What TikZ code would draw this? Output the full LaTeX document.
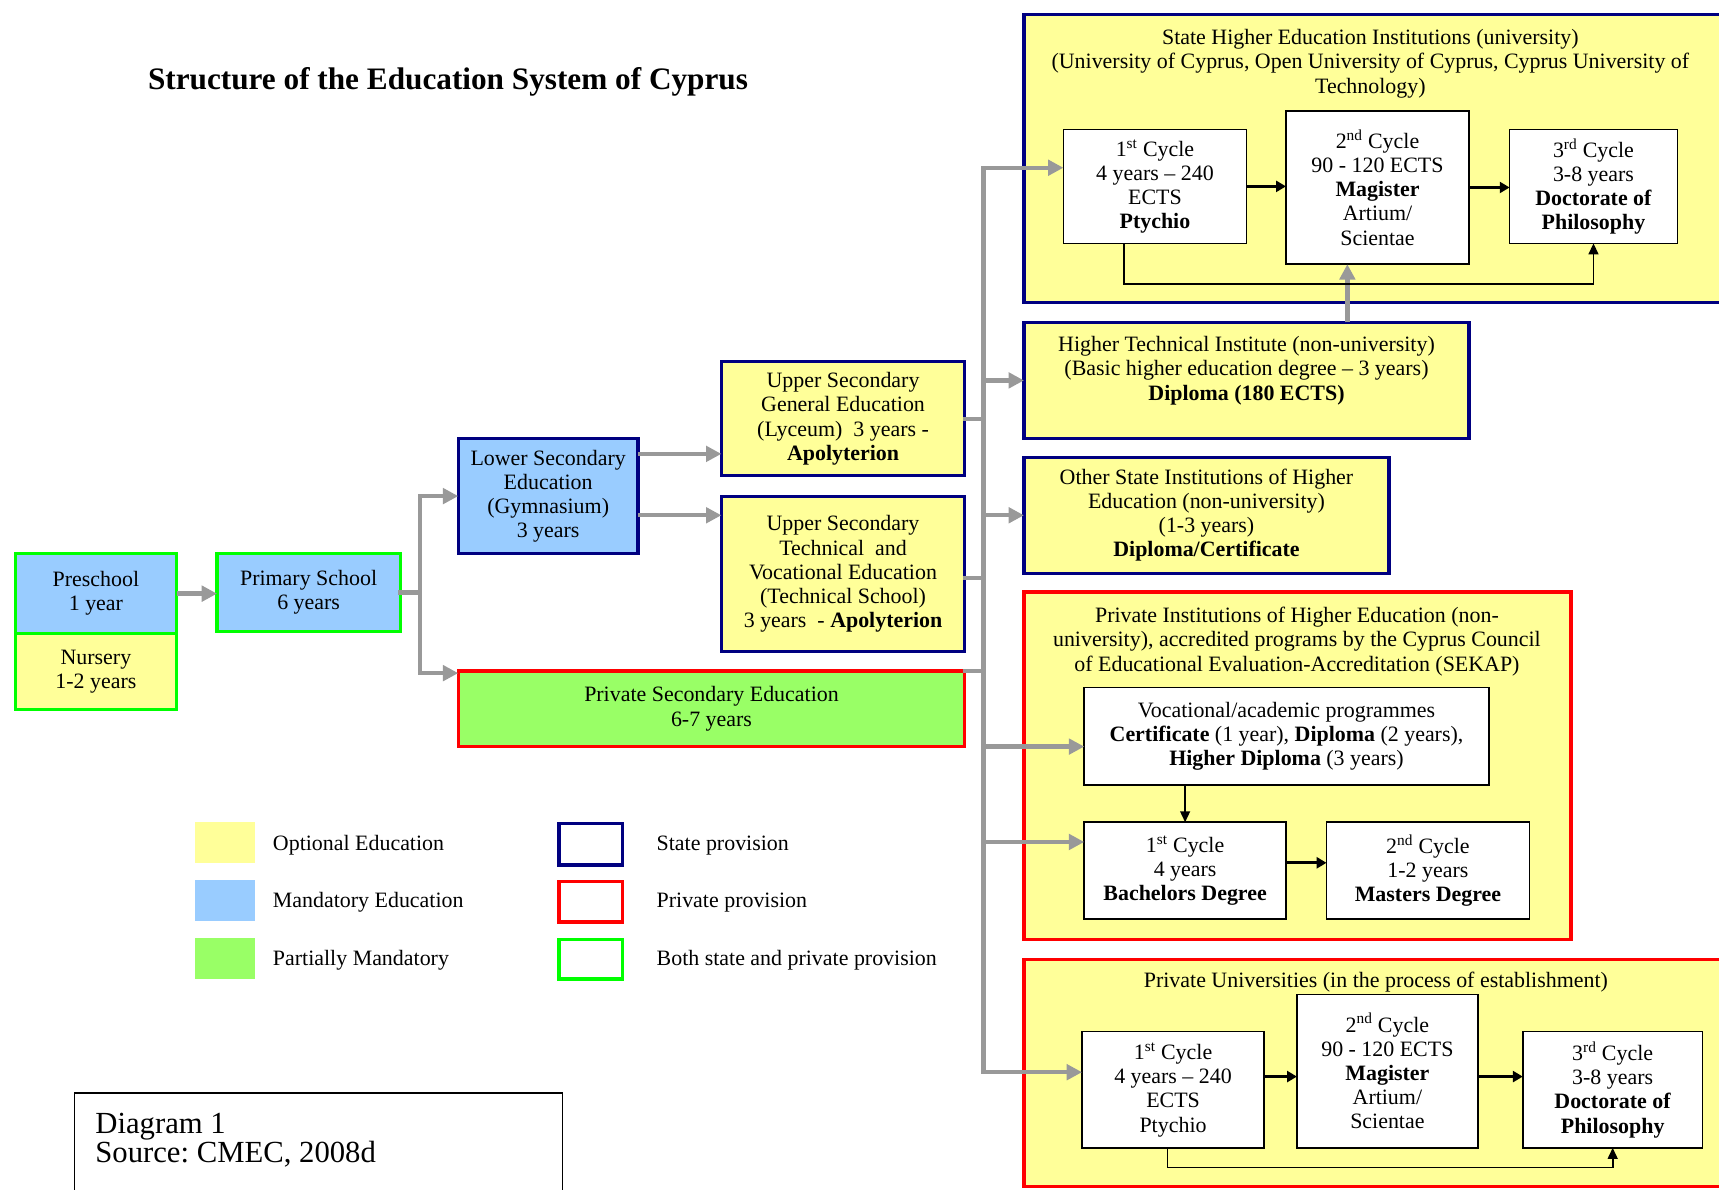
\documentclass[tikz,border=0pt]{standalone}
\usepackage{fontspec}
\setmainfont{Liberation Serif}
\usetikzlibrary{arrows.meta,calc}
\definecolor{cyel}{HTML}{FFFF99}
\definecolor{cblue}{HTML}{99CCFF}
\definecolor{cgreen}{HTML}{99FF66}
\definecolor{cnavy}{HTML}{000080}
\definecolor{cred}{HTML}{FF0000}
\definecolor{clime}{HTML}{00FF00}
\definecolor{cgrey}{HTML}{999999}
\frenchspacing
\begin{document}
\begin{tikzpicture}[x=1pt,y=-1pt,
  every node/.style={font=\fontsize{20}{22}\selectfont, align=center, inner sep=0pt, outer sep=0pt},
  sz/.style 2 args={minimum width=#1pt, minimum height=#2pt},
  box/.style={draw, line width=3pt, anchor=north west},
  wbox/.style={draw=black, line width=1.5pt, fill=white, anchor=north west},
  swatch/.style={anchor=north west, minimum width=55pt, minimum height=37pt},
  legtext/.style={anchor=west},
  gline/.style={draw=cgrey, line width=4pt, line cap=rect},
  garrow/.style={draw=cgrey, line width=4pt, -{Triangle[length=14pt,width=14pt]}},
  barrow/.style={draw=black, line width=3pt, -{Triangle[length=9pt,width=10pt]}},
  bthin/.style={draw=black, line width=1.5pt, -{Triangle[length=10pt,width=9pt]}}
]
\fill[white] (0,0) rectangle (1568,1085);
\clip (0,0) rectangle (1568,1085);

% title
\node[anchor=west, font=\fontsize{28.5}{30}\selectfont\bfseries] (title) at (135,75) {Structure of the Education System of Cyprus};

% left part
\node[box, draw=clime, fill=cyel, sz={147}{69}] (nur) at (14,578) {Nursery\\1-2 years};
\node[box, draw=clime, fill=cblue, sz={147}{73}] (pre) at (14,505) {Preschool\\1 year};
\node[box, draw=clime, fill=cblue, sz={167}{71}] (prim) at (198,505) {Primary School\\6 years};
\node[box, draw=cnavy, fill=cblue, sz={164}{105}] (lsec) at (418,400) {Lower Secondary\\Education\\(Gymnasium)\\3 years};
\node[box, draw=cnavy, fill=cyel, sz={222}{104}] (ugen) at (658,330) {Upper Secondary\\General Education\\(Lyceum)\ \ 3 years -\\\textbf{Apolyterion}};
\node[box, draw=cnavy, fill=cyel, sz={222}{141}] (utech) at (658,453) {Upper Secondary\\Technical\ \ and\\Vocational Education\\(Technical School)\\3 years\ \ - \textbf{Apolyterion}};
\node[box, draw=cred, fill=cgreen, sz={462}{69}] (psec) at (418,612) {Private Secondary Education\\6-7 years};

% state higher education
\node[box, draw=cnavy, fill=cyel, sz={642}{263}] (shei) at (934,13) {};
\node[anchor=north] (sheit) at (1250,27) {State Higher Education Institutions (university)\\(University of Cyprus, Open University of Cyprus, Cyprus University of\\Technology)};
\node[wbox, sz={167}{104}] (s1) at (970,118) {1\textsuperscript{st} Cycle\\4 years – 240\\ECTS\\\textbf{Ptychio}};
\node[wbox, sz={167}{140}] (s2) at (1173,101) {2\textsuperscript{nd} Cycle\\90 - 120 ECTS\\\textbf{Magister}\\Artium/\\Scientae};
\node[wbox, sz={153}{104}] (s3) at (1377,118) {3\textsuperscript{rd} Cycle\\3-8 years\\\textbf{Doctorate of}\\\textbf{Philosophy}};

% higher technical institute
\node[box, draw=cnavy, fill=cyel, sz={406}{106}] (ht) at (934,294) {};
\node[anchor=north] (htt) at (1137,307) {Higher Technical Institute (non-university)\\(Basic higher education degree – 3 years)\\\textbf{Diploma (180 ECTS)}};

% other state
\node[box, draw=cnavy, fill=cyel, sz={333}{106}] (os) at (934,417) {Other State Institutions of Higher\\Education (non-university)\\(1-3 years)\\\textbf{Diploma/Certificate}};

% private institutions
\node[box, draw=cred, fill=cyel, sz={499}{317}] (pi) at (934,540) {};
\node[anchor=north] (pit) at (1183,554) {Private Institutions of Higher Education (non-\\university), accredited programs by the Cyprus Council\\of Educational Evaluation-Accreditation (SEKAP)};
\node[wbox, sz={369}{89}] (voc) at (989,627) {Vocational/academic programmes\\\textbf{Certificate} (1 year), \textbf{Diploma} (2 years),\\\textbf{Higher Diploma} (3 years)};
\node[wbox, sz={184}{88}] (pc1) at (989,750) {1\textsuperscript{st} Cycle\\4 years\\\textbf{Bachelors Degree}};
\node[wbox, sz={185}{88}] (pc2) at (1210,750) {2\textsuperscript{nd} Cycle\\1-2 years\\\textbf{Masters Degree}};

% private universities
\node[box, draw=cred, fill=cyel, sz={652}{207}] (pu) at (934,875) {};
\node[anchor=north] (put) at (1255,887) {Private Universities (in the process of establishment)};
\node[wbox, sz={166}{106}] (u1) at (987,941) {1\textsuperscript{st} Cycle\\4 years – 240\\ECTS\\Ptychio};
\node[wbox, sz={165}{140}] (u2) at (1183,907) {2\textsuperscript{nd} Cycle\\90 - 120 ECTS\\\textbf{Magister}\\Artium/\\Scientae};
\node[wbox, sz={164}{106}] (u3) at (1389,941) {3\textsuperscript{rd} Cycle\\3-8 years\\\textbf{Doctorate of}\\\textbf{Philosophy}};

% legend
\node[swatch, fill=cyel] (lg1) at (178,750) {};
\node[swatch, fill=cblue] (lg2) at (178,803) {};
\node[swatch, fill=cgreen] (lg3) at (178,856) {};
\node[legtext] (lt1) at (249,771) {Optional Education};
\node[legtext] (lt2) at (249,823) {Mandatory Education};
\node[legtext] (lt3) at (249,876) {Partially Mandatory};
\node[box, draw=cnavy, fill=white, sz={58}{38}] (lg4) at (510,751) {};
\node[box, draw=cred, fill=white, sz={58}{37}] (lg5) at (510,804) {};
\node[box, draw=clime, fill=white, sz={58}{36}] (lg6) at (510,857) {};
\node[legtext] (lt4) at (599,771) {State provision};
\node[legtext] (lt5) at (599,823) {Private provision};
\node[legtext] (lt6) at (599,876) {Both state and private provision};

% source box
\node[draw=black, line width=1.5pt, anchor=north west, minimum width=445pt, minimum height=110pt] (src) at (68,997) {};
\node[anchor=north west, align=left, font=\fontsize{28}{27}\selectfont] (srct) at (87,1015) {Diagram 1\\Source: CMEC, 2008d};

% ---- grey connectors ----
\coordinate (sx) at (383,541);
\coordinate (pin) at ([yshift=-2pt]psec.north west);
\draw[garrow] (pre.east) -- (pre.east -| prim.west);
\draw[gline] (prim.east) -- (prim.east -| sx);
\draw[gline] (sx |- lsec.west) -- (sx |- pin);
\draw[garrow] (sx |- lsec.west) -- (lsec.west);
\draw[garrow] (sx |- pin) -- (pin);

\coordinate (l1) at ([yshift=-14pt]lsec.north east);
\coordinate (l2) at ([yshift=-70pt]lsec.north east);
\draw[garrow] (l1) -- (l1 -| ugen.west);
\draw[garrow] (l2) -- (l2 -| utech.west);

\coordinate (tk) at (897,153);
\coordinate (s1in) at ([yshift=17pt]s1.west);
\coordinate (vin) at ([yshift=-9.5pt]voc.west);
\coordinate (c1in) at ([yshift=26pt]pc1.west);
\coordinate (u1in) at ([yshift=16pt]u1.west);
\coordinate (tin) at ([yshift=-3.5pt]utech.east);
\draw[gline] (tk |- s1in) -- (tk |- u1in);
\draw[gline] (ugen.east) -- (ugen.east -| tk);
\draw[gline] (tin) -- (tin -| tk);
\draw[gline] (psec.north east) -- (psec.north east -| tk);
\draw[garrow] (tk |- s1in) -- (s1in);
\draw[garrow] (tk |- ht.west) -- (ht.west);
\draw[garrow] (tk |- os.west) -- (os.west);
\draw[garrow] (tk |- vin) -- (vin);
\draw[garrow] (tk |- c1in) -- (c1in);
\draw[garrow] (tk |- u1in) -- (u1in);

\coordinate (h2) at ([xshift=-27.5pt]s2.south);
\draw[garrow] (h2 |- ht.north) -- (h2);

% ---- black connectors ----
\draw[barrow] (s1.east) -- (s1.east -| s2.west);
\draw[barrow] (s2.east) -- (s2.east -| s3.west);
\draw[bthin] ([xshift=-28.5pt]s1.south) -- ++(0,37) -| (s3.south);

\draw[bthin] (pc1.north |- voc.south) -- (pc1.north);
\coordinate (pca) at ([yshift=7pt]pc1.east);
\draw[barrow] (pca) -- (pca -| pc2.west);

\coordinate (ua) at ([yshift=12pt]u1.east);
\coordinate (ub) at ([yshift=12pt]u3.west);
\draw[barrow] (ua) -- (ua -| u2.west);
\draw[barrow] (ub -| u2.east) -- (ub);
\draw[bthin] ([xshift=-5pt]u1.south) -- ++(0,18) -| (u3.south);
\end{tikzpicture}
\end{document}
